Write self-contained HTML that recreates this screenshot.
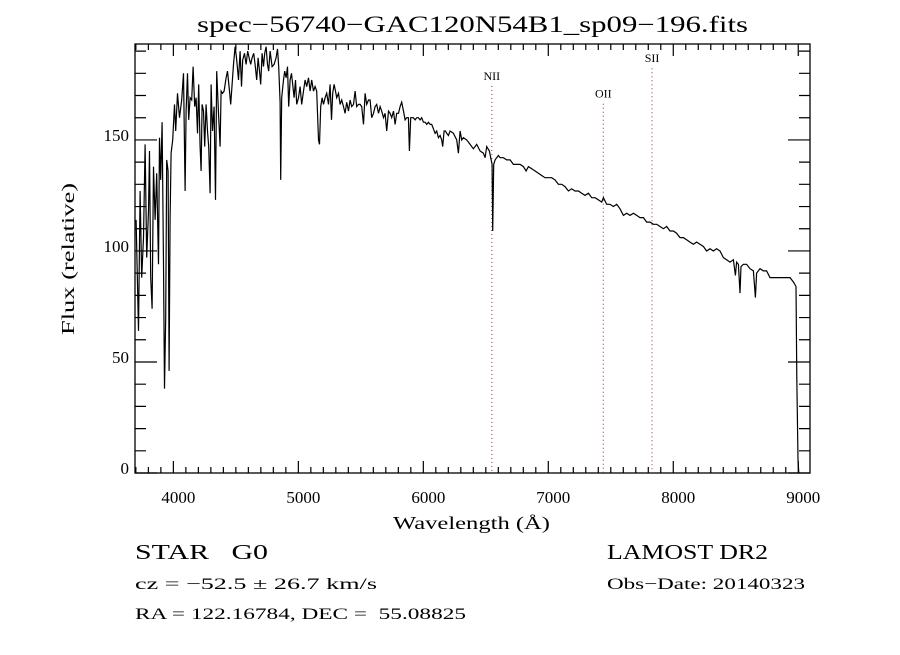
<!DOCTYPE html>
<html><head><meta charset="utf-8"><style>
body{margin:0;background:#fff;}
svg text{font-family:"Liberation Serif",serif;fill:#000;}
</style></head><body>
<svg id="chart" width="900" height="650" viewBox="0 0 900 650" xmlns="http://www.w3.org/2000/svg">
<rect width="900" height="650" fill="#fff"/>
<text x="197" y="32" font-size="23" textLength="551" lengthAdjust="spacingAndGlyphs">spec−56740−GAC120N54B1_sp09−196.fits</text>
<g id="axes"></g>
<g id="lines"></g>
<polyline id="spec" fill="none" stroke="#000" stroke-width="1.2"/>
<text x="393" y="529" font-size="18" textLength="157" lengthAdjust="spacingAndGlyphs">Wavelength (Å)</text>
<text x="74" y="335" font-size="18" textLength="152" lengthAdjust="spacingAndGlyphs" transform="rotate(-90 74 335)">Flux (relative)</text>
<text x="135" y="559" font-size="21" textLength="133" lengthAdjust="spacingAndGlyphs" xml:space="preserve">STAR   G0</text>
<text x="607" y="559" font-size="21" textLength="161" lengthAdjust="spacingAndGlyphs">LAMOST DR2</text>
<text x="135" y="589" font-size="16" textLength="242" lengthAdjust="spacingAndGlyphs">cz = −52.5 ± 26.7 km/s</text>
<text x="607" y="589" font-size="16" textLength="198" lengthAdjust="spacingAndGlyphs">Obs−Date: 20140323</text>
<text x="135" y="619" font-size="16" textLength="331" lengthAdjust="spacingAndGlyphs" xml:space="preserve">RA = 122.16784, DEC =  55.08825</text>
</svg>
<script>
const wavelengths=[3702,3721,3734,3747,3761,3774,3787,3801,3809,3819,3830,3841,3854,3867,3881,3889,3899,3910,3921,3929,3939,3947,3958,3966,3974,3982,3995,4009,4019,4033,4049,4067,4081,4094,4102,4113,4123,4134,4147,4158,4171,4182,4193,4203,4214,4222,4230,4241,4251,4262,4273,4283,4294,4302,4313,4326,4337,4347,4361,4374,4382,4393,4406,4422,4433,4449,4459,4470,4481,4494,4505,4521,4534,4545,4555,4569,4582,4595,4606,4619,4630,4643,4654,4667,4678,4689,4699,4710,4721,4731,4742,4753,4763,4774,4790,4806,4822,4833,4843,4854,4859,4867,4881,4891,4902,4913,4923,4934,4945,4955,4966,4977,4987,5001,5014,5027,5041,5054,5067,5081,5094,5107,5121,5134,5147,5161,5169,5179,5190,5201,5214,5227,5241,5254,5265,5275,5286,5297,5307,5321,5334,5347,5361,5374,5387,5401,5414,5427,5441,5454,5467,5481,5494,5507,5521,5534,5547,5561,5574,5587,5601,5614,5627,5641,5654,5667,5681,5694,5707,5721,5734,5747,5761,5774,5787,5801,5814,5827,5841,5854,5867,5881,5889,5899,5910,5921,5934,5947,5961,5974,5987,6001,6014,6027,6041,6054,6067,6081,6094,6107,6121,6134,6147,6155,6166,6177,6187,6201,6214,6241,6267,6281,6294,6307,6321,6347,6374,6401,6427,6454,6481,6494,6507,6529,6539,6550,6555,6563,6574,6587,6601,6614,6641,6667,6694,6721,6747,6774,6801,6822,6841,6867,6894,6921,6947,6974,7001,7027,7054,7081,7107,7134,7161,7187,7214,7241,7267,7294,7321,7347,7374,7401,7427,7441,7467,7494,7521,7547,7574,7601,7627,7654,7681,7707,7734,7761,7787,7814,7841,7867,7894,7921,7947,7974,8001,8027,8054,8081,8107,8134,8161,8187,8214,8241,8267,8294,8321,8347,8374,8401,8427,8454,8481,8497,8507,8521,8534,8542,8561,8587,8614,8641,8657,8667,8694,8721,8747,8774,8801,8827,8854,8881,8907,8934,8961,8982,8988,8998,9004];
const fluxValues=[114,64,127,88,106,148,97,118,145,88,74,138,114,135,94,151,132,158,94,38,70,141,136,46,115,144,150,166,154,171,160,168,180,127,163,180,159,169,168,183,165,169,153,175,147,136,166,163,147,166,154,147,126,175,154,165,123,181,162,147,172,171,172,178,181,172,166,175,184,192,187,177,190,174,186,189,184,190,187,184,187,189,184,177,187,181,175,189,183,189,192,184,181,190,183,184,187,191,183,167,132,169,177,181,178,183,165,177,180,175,169,177,166,169,174,166,172,177,174,178,172,177,172,174,172,150,148,165,169,166,169,171,166,175,159,171,175,172,169,171,166,168,165,162,167,163,168,165,166,172,165,166,166,165,157,171,166,168,168,160,162,165,166,162,165,163,160,162,154,163,162,160,163,157,162,162,165,167,163,159,160,160,145,160,160,160,159,160,160,159,160,158,158,157,158,157,157,155,153,154,151,152,150,147,154,154,153,152,154,153,150,144,154,150,151,150,148,146,148,145,144,142,147,145,142,139,109,139,141,142,143,142,142,141,141,139,139,139,138,136,138,137,136,135,134,133,133,133,132,130,130,129,127,128,127,127,126,125,126,124,124,123,122,124,121,121,120,121,119,116,117,116,117,116,115,115,113,113,112,112,111,110,111,109,109,108,106,106,105,104,103,104,103,102,100,101,100,101,100,97,96,95,96,89,95,94,81,93,94,94,92,91,79,90,92,91,91,88,88,88,88,88,88,88,86,84,43,6,0];
const xTickValues=[4000,5000,6000,7000,8000,9000];
const yTickValues=[0,50,100,150];
const lineNames=["NII","OII","SII"];
const lineWavelengths=[6548,7440,7830];
const lineLabelFlux=[177,169,185];

const L=135,R=810,T=44,B=473,X0=3693,X1=9094,Y0=0,Y1=193.2;
function xs(v){return L+(v-X0)/(X1-X0)*(R-L);}
function ys(v){return B-(v-Y0)/(Y1-Y0)*(B-T);}
const NS="http://www.w3.org/2000/svg";
function mk(tag,attrs,parent,txt){const e=document.createElementNS(NS,tag);for(const k in attrs)e.setAttribute(k,attrs[k]);if(txt!==undefined)e.textContent=txt;parent.appendChild(e);return e;}
const axes=document.getElementById('axes');
const frame=mk('rect',{x:L,y:T,width:R-L,height:B-T,fill:'none',stroke:'#000','stroke-width':1.3},axes);


let d='';
for(let w=3700;w<=9094;w+=100){const x=xs(w);const major=w%1000===0;const len=major?12:6;d+=`M${x} ${B}V${B-len}M${x} ${T}V${T+len}`;}
for(let f=0;f<=Y1;f+=10){const y=ys(f);const major=f%50===0;const len=major?22:11;d+=`M${L} ${y}H${L+len}M${R} ${y}H${R-len}`;}
const ticks=mk('path',{d:d,stroke:'#000','stroke-width':1.2,fill:'none'},axes);


xTickValues.forEach(v=>{const t=mk('text',{x:xs(v)+5,y:B+30,'font-size':17,'text-anchor':'middle'},axes,String(v));

});
yTickValues.forEach(v=>{const t=mk('text',{x:L-6,y:ys(v)+1,'font-size':17,'text-anchor':'end'},axes,String(v));

});
const lg=document.getElementById('lines');
lineNames.forEach((n,i)=>{const x=xs(lineWavelengths[i]);const y=ys(lineLabelFlux[i]);
const ln=mk('line',{x1:x,y1:y+6,x2:x,y2:B,stroke:'#8a3a2a','stroke-width':1,'stroke-dasharray':'1,3'},lg);


const t=mk('text',{x:x,y:y,'font-size':12,'text-anchor':'middle'},lg,n);

});
document.getElementById('spec').setAttribute('points',wavelengths.map((w,i)=>xs(w).toFixed(1)+','+ys(fluxValues[i]).toFixed(1)).join(' '));
</script>
</body></html>
